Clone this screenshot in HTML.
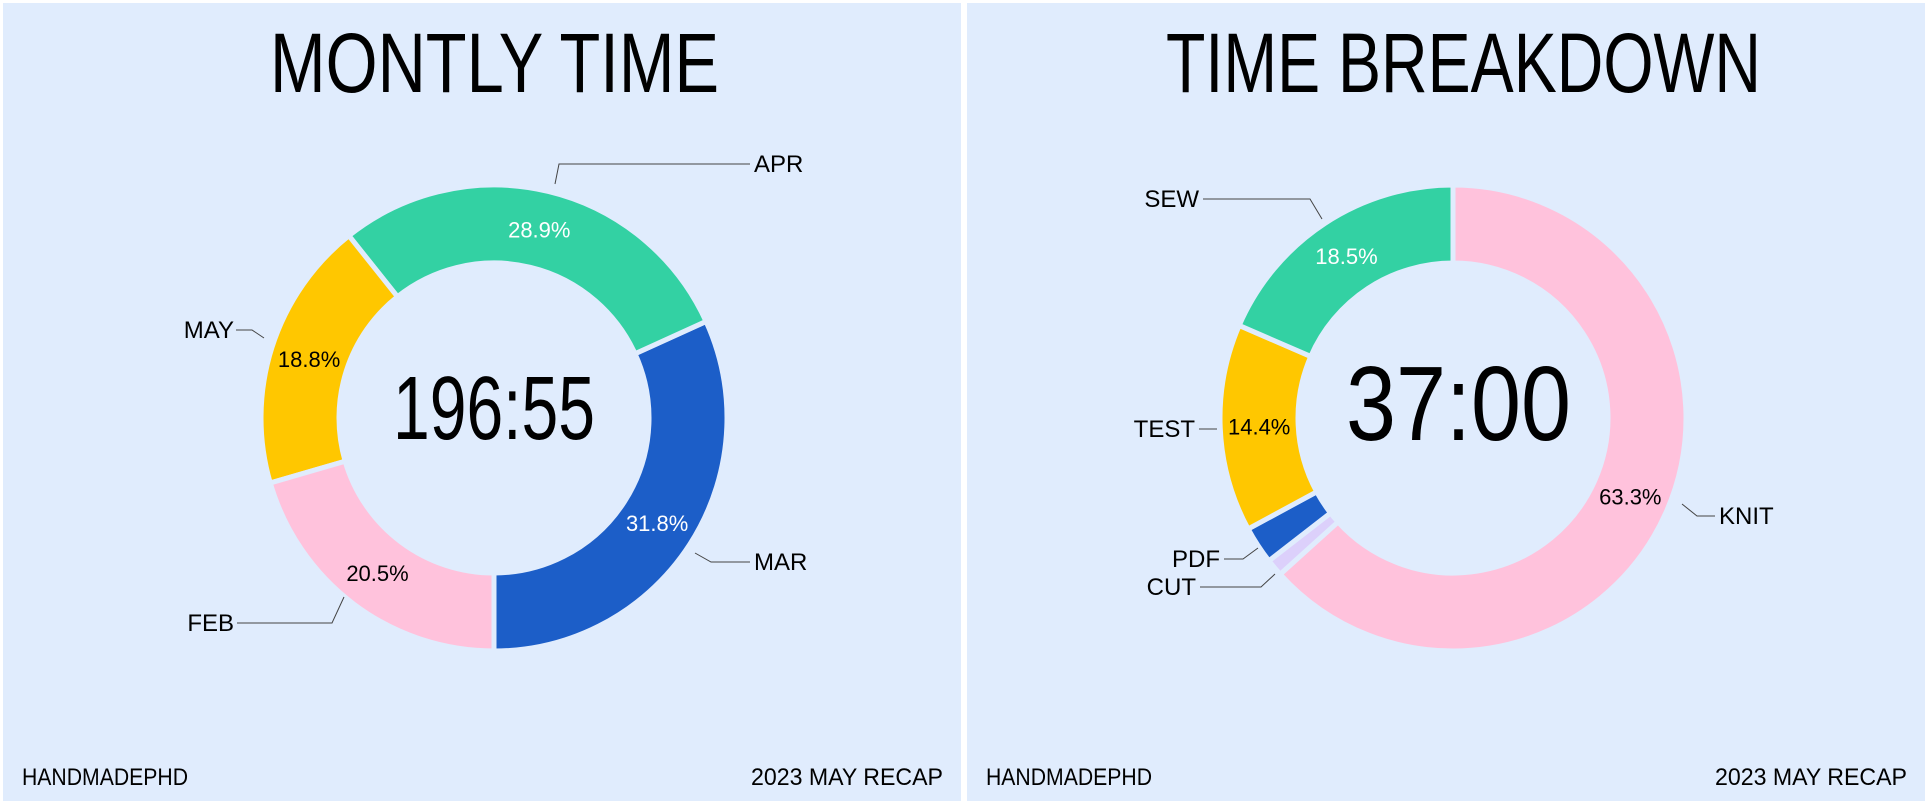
<!DOCTYPE html>
<html><head><meta charset="utf-8">
<style>
html,body{margin:0;padding:0;background:#fff;}
svg{display:block;}
text{font-family:"Liberation Sans",sans-serif;}
</style></head>
<body>
<svg id="s" width="1928" height="804" viewBox="0 0 1928 804" xmlns="http://www.w3.org/2000/svg">
  <rect x="0" y="0" width="1928" height="804" fill="#ffffff"/>
  <rect x="3" y="3" width="958" height="798" fill="#e0ecfd"/>
  <rect x="967" y="3" width="958" height="798" fill="#e0ecfd"/>
  <text x="270" y="92" font-size="84" textLength="449" lengthAdjust="spacingAndGlyphs" fill="#000">MONTLY TIME</text>
  <text x="1166" y="92" font-size="84" textLength="595" lengthAdjust="spacingAndGlyphs" fill="#000">TIME BREAKDOWN</text>
  <text x="393" y="439" font-size="90" textLength="202" lengthAdjust="spacingAndGlyphs" fill="#000">196:55</text>
  <text x="1346" y="440" font-size="106" textLength="225" lengthAdjust="spacingAndGlyphs" fill="#000">37:00</text>
  <text x="22" y="785" font-size="24" textLength="166" lengthAdjust="spacingAndGlyphs" fill="#000">HANDMADEPHD</text>
  <text x="751" y="785" font-size="24" textLength="192" lengthAdjust="spacingAndGlyphs" fill="#000">2023 MAY RECAP</text>
  <text x="986" y="785" font-size="24" textLength="166" lengthAdjust="spacingAndGlyphs" fill="#000">HANDMADEPHD</text>
  <text x="1715" y="785" font-size="24" textLength="192" lengthAdjust="spacingAndGlyphs" fill="#000">2023 MAY RECAP</text>
  <g id="g1"></g>
  <g id="g2"></g>
  <g id="ann"></g>
</svg>
<script>
// Chart 1: monthly time (counterclockwise from bottom)
const monthLabels = ["MAR","APR","MAY","FEB"];
const monthValues = [31.8, 28.9, 18.8, 20.5];
const monthColors = ["#1c5ec8","#33d1a3","#ffc700","#ffc2dc"];
const monthText = ["#fff","#fff","#000","#000"];
// Chart 2: time breakdown (clockwise from top)
const taskLabels = ["KNIT","CUT","PDF","TEST","SEW"];
const taskValues = [63.3, 1.2, 2.6, 14.4, 18.5];
const taskColors = ["#ffc2dc","#dcd0fb","#1c5ec8","#ffc700","#33d1a3"];
const taskText = ["#000","#000","#fff","#000","#fff"];
const taskShowPct = [true,false,false,true,true];

const NS="http://www.w3.org/2000/svg";
const R=233, r=155;
function pt(cx,cy,rad,deg){const a=deg*Math.PI/180;return [cx+rad*Math.sin(a), cy-rad*Math.cos(a)];}
function arcPath(cx,cy,a0,a1){
  const lo=Math.min(a0,a1), hi=Math.max(a0,a1);
  const big=(hi-lo)>180?1:0;
  const p1=pt(cx,cy,R,lo),p2=pt(cx,cy,R,hi),p3=pt(cx,cy,r,hi),p4=pt(cx,cy,r,lo);
  return `M${p1[0]},${p1[1]} A${R},${R} 0 ${big} 1 ${p2[0]},${p2[1]} L${p3[0]},${p3[1]} A${r},${r} 0 ${big} 0 ${p4[0]},${p4[1]} Z`;
}
function donut(gid,cx,cy,start,dir,labels,vals,colors,tcols,show){
  const g=document.getElementById(gid);
  const tot=vals.reduce((a,b)=>a+b,0);
  let a=start;
  vals.forEach((v,i)=>{
    const sweep=v/tot*360*dir;
    const p=document.createElementNS(NS,"path");
    p.setAttribute("d",arcPath(cx,cy,a,a+sweep));
    p.setAttribute("fill",colors[i]);
    p.setAttribute("stroke","#e0ecfd");
    p.setAttribute("stroke-width","5");
    
    
    g.appendChild(p);
    if(!show||show[i]){
      const m=pt(cx,cy,(R+r)/2,a+sweep/2);
      const t=document.createElementNS(NS,"text");
      t.setAttribute("x",m[0]);t.setAttribute("y",m[1]+8);
      t.setAttribute("text-anchor","middle");t.setAttribute("font-size","22");
      t.setAttribute("fill",tcols[i]);
      t.textContent=v.toFixed(1)+"%";
      
      
      g.appendChild(t);
    }
    a+=sweep;
  });
}
donut("g1",494,418,180,-1,monthLabels,monthValues,monthColors,monthText,null);
donut("g2",1453,418,0,1,taskLabels,taskValues,taskColors,taskText,taskShowPct);

const ann=document.getElementById("ann");
function lead(name,pts,tx,ty,anchor){
  const pl=document.createElementNS(NS,"polyline");
  pl.setAttribute("points",pts);
  pl.setAttribute("fill","none");pl.setAttribute("stroke","#444");pl.setAttribute("stroke-width","1");
  
  
  ann.appendChild(pl);
  const t=document.createElementNS(NS,"text");
  t.setAttribute("x",tx);t.setAttribute("y",ty);t.setAttribute("font-size","24");
  t.setAttribute("text-anchor",anchor);t.setAttribute("fill","#000");
  t.textContent=name;
  
  
  ann.appendChild(t);
}
lead("APR","555,184 559,164 750,164",754,172,"start");
lead("MAY","264,338 252,330 236,330",234,338,"end");
lead("FEB","344,597 332,623 237,623",234,631,"end");
lead("MAR","695,553 711,562 750,562",754,570,"start");
lead("SEW","1322,219 1310,199 1203,199",1199,207,"end");
lead("TEST","1217,429 1199,429",1195,437,"end");
lead("PDF","1258,548 1243,559 1224,559",1220,567,"end");
lead("CUT","1275,574 1261,587 1200,587",1196,595,"end");
lead("KNIT","1682,504 1697,516 1715,516",1719,524,"start");
</script>
</body></html>
